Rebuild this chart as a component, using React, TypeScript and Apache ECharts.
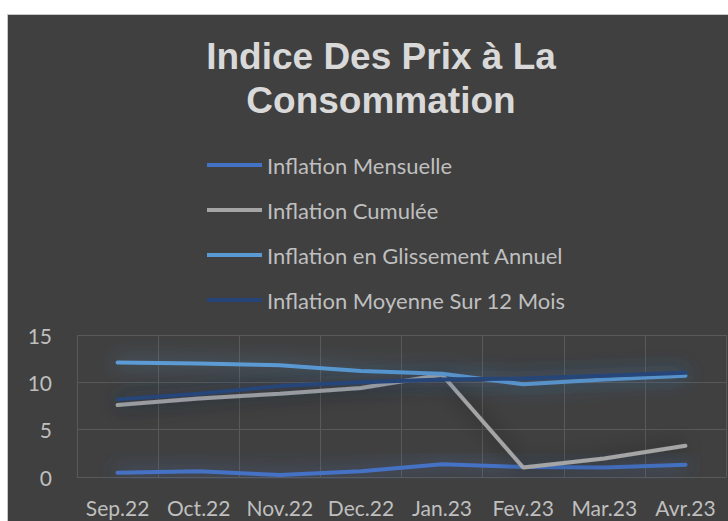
import React, { useEffect, useRef } from "react";
import * as echarts from "echarts";

const categories = ["Sep.22", "Oct.22", "Nov.22", "Dec.22", "Jan.23", "Fev.23", "Mar.23", "Avr.23"];
const mensuelle = [0.45, 0.6, 0.2, 0.6, 1.35, 1.05, 1.0, 1.3];
const cumulee = [7.6, 8.3, 8.8, 9.4, 10.8, 1.0, 1.95, 3.3];
const glissement = [12.1, 12.0, 11.8, 11.2, 10.9, 9.8, 10.3, 10.7];
const moyenne = [8.2, 8.8, 9.6, 10.0, 10.3, 10.4, 10.7, 11.0];
const seriesNames = [
  "Inflation Mensuelle",
  "Inflation Cumulée",
  "Inflation en Glissement Annuel",
  "Inflation Moyenne Sur 12 Mois",
];
const yTicks = { min: 0, max: 15, interval: 5 };

export default function App() {
  const ref = useRef<HTMLDivElement>(null);
  useEffect(() => {
    if (!ref.current) return;
    const chart = echarts.init(ref.current, null, { renderer: "svg" });
    const mk = (name: string, data: number[], color: string, glow: string) => ({
      name,
      type: "line",
      data,
      showSymbol: false,
      symbol: "none",
      lineStyle: { color, width: 4, shadowColor: glow, shadowBlur: 20, cap: "round" },
      itemStyle: { color },
    });
    chart.setOption({
      animation: false,
      backgroundColor: "#404040",
      title: {
        text: "Indice Des Prix à La\nConsommation",
        left: "center",
        top: 19,
        padding: 0,
        textStyle: {
          color: "#d9d9d9",
          fontFamily: "Liberation Sans, Arial, sans-serif",
          fontWeight: "bold",
          fontSize: 37,
          lineHeight: 44,
        },
      },
      legend: {
        orient: "vertical",
        left: 199,
        top: 139,
        padding: 0,
        itemGap: 23,
        itemWidth: 55,
        itemHeight: 4,
        icon: "rect",
        data: seriesNames,
        textStyle: {
          color: "#bfbfbf",
          fontFamily: "Lato, 'Open Sans', sans-serif",
          fontSize: 22,
          lineHeight: 22,
        },
      },
      grid: { left: 69, right: 28, top: 320, bottom: 44, outerBoundsMode: "none", containLabel: false },
      xAxis: {
        type: "category",
        data: categories,
        boundaryGap: true,
        axisLine: { show: true, lineStyle: { color: "#595959", width: 1 } },
        axisTick: { show: false, interval: 0 },
        splitLine: { show: true, interval: 0, lineStyle: { color: "#595959", width: 1 } },
        axisLabel: {
          interval: 0,
          color: "#bfbfbf",
          fontFamily: "Lato, 'Open Sans', sans-serif",
          fontSize: 21,
          margin: 20,
        },
      },
      yAxis: {
        type: "value",
        min: yTicks.min,
        max: yTicks.max,
        interval: yTicks.interval,
        axisLine: { show: false },
        axisTick: { show: false },
        splitLine: { show: true, lineStyle: { color: "#595959", width: 1 } },
        axisLabel: {
          color: "#bfbfbf",
          fontFamily: "Lato, 'Open Sans', sans-serif",
          fontSize: 21,
          margin: 25,
        },
      },
      series: [
        mk(seriesNames[0], mensuelle, "#4472c4", "rgba(68,114,196,0.8)"),
        mk(seriesNames[1], cumulee, "#a5a5a5", "rgba(30,30,30,0.6)"),
        mk(seriesNames[2], glissement, "#5b9bd5", "rgba(91,155,213,0.7)"),
        mk(seriesNames[3], moyenne, "#264478", "rgba(38,68,120,0.8)"),
      ],
    });
    return () => chart.dispose();
  }, []);
  return (
    <div
      style={{
        position: "absolute",
        left: 7,
        top: 14,
        width: 721,
        height: 507,
        overflow: "hidden",
        borderTop: "1px solid #c8c8c8",
        borderLeft: "1px solid #c8c8c8",
        boxSizing: "border-box",
        background: "#404040",
      }}
    >
      <div ref={ref} style={{ width: 746, height: 506 }} />
    </div>
  );
}
